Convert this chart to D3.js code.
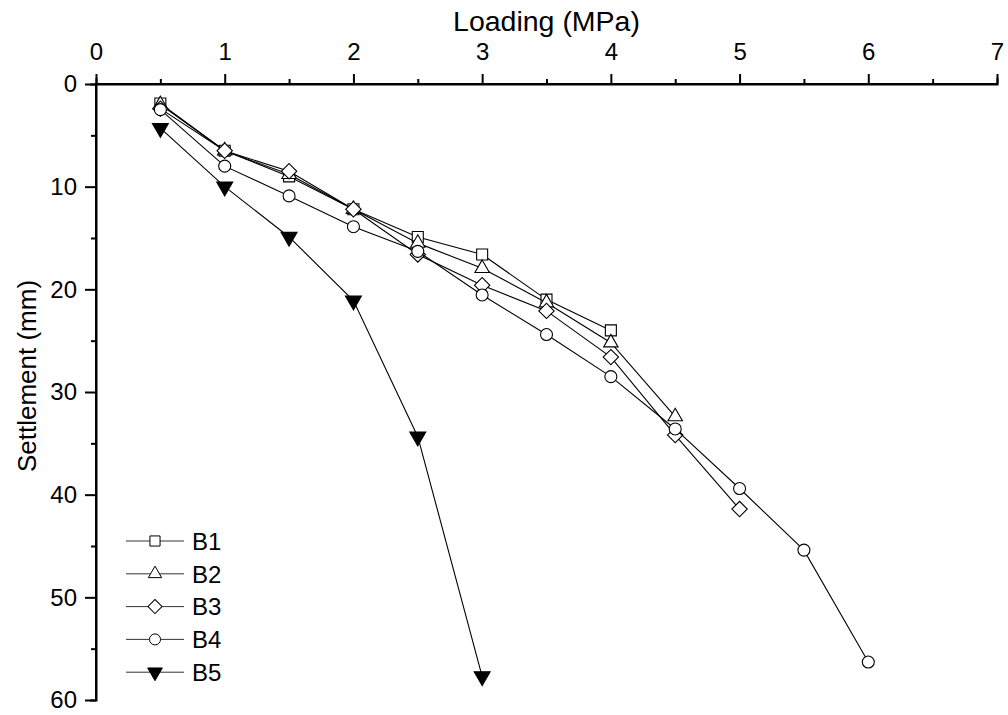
<!DOCTYPE html>
<html>
<head>
<meta charset="utf-8">
<script src="https://cdn.jsdelivr.net/npm/d3@7"></script>
<style>
  html, body { margin: 0; padding: 0; background: #fff; }
  svg { display: block; font-family: "Liberation Sans", Arial, sans-serif; }
</style>
</head>
<body>
<svg id="chart" width="1008" height="715"></svg>
<script>
// Load–settlement curves for the five test beds
const loadB1 = [0.5, 1, 1.5, 2, 2.5, 3, 3.5, 4];
const settB1 = [1.9, 6.5, 9.0, 12.2, 14.9, 16.6, 21.0, 24.0];

const loadB2 = [0.5, 1, 1.5, 2, 2.5, 3, 3.5, 4, 4.5];
const settB2 = [2.0, 6.5, 8.8, 12.2, 15.5, 17.95, 21.3, 25.2, 32.4];

const loadB3 = [0.5, 1, 1.5, 2, 2.5, 3, 3.5, 4, 4.5, 5];
const settB3 = [2.4, 6.5, 8.5, 12.2, 16.6, 19.6, 22.1, 26.6, 34.2, 41.4];

const loadB4 = [0.5, 1, 1.5, 2, 2.5, 3, 3.5, 4, 4.5, 5, 5.5, 6];
const settB4 = [2.5, 8.0, 10.9, 13.9, 16.3, 20.55, 24.4, 28.5, 33.6, 39.4, 45.4, 56.3];

const loadB5 = [0.5, 1, 1.5, 2, 2.5, 3];
const settB5 = [4.3, 10.0, 14.9, 21.1, 34.35, 57.7];

const seriesNames = ["B1", "B2", "B3", "B4", "B5"];
const xTickValues = [0, 1, 2, 3, 4, 5, 6, 7];
const yTickValues = [0, 10, 20, 30, 40, 50, 60];

const series = [
  { name: "B1", load: loadB1, sett: settB1, marker: "square" },
  { name: "B2", load: loadB2, sett: settB2, marker: "triangle" },
  { name: "B3", load: loadB3, sett: settB3, marker: "diamond" },
  { name: "B4", load: loadB4, sett: settB4, marker: "circle" },
  { name: "B5", load: loadB5, sett: settB5, marker: "down" }
];

const svg = d3.select("#chart");
const plotLeft = 96, plotRight = 997, plotTop = 84, plotBottom = 700;

const x = d3.scaleLinear().domain([0, 7]).range([plotLeft, plotRight]);
const y = d3.scaleLinear().domain([0, 60]).range([plotTop, plotBottom]);

function markerPath(kind, scale) {
  const k = scale || 1;
  switch (kind) {
    case "square":   return d3.symbol(d3.symbolSquare, 121 * k * k)();
    case "triangle": return d3.symbol(d3.symbolTriangle, 90 * k * k)();
    case "diamond":  return d3.symbol(d3.symbolSquare, 118 * k * k)();
    case "circle":   return d3.symbol(d3.symbolCircle, 113 * k * k)();
    case "down":     return d3.symbol(d3.symbolTriangle, 110 * k * k)();
  }
}
function markerRotate(kind) {
  if (kind === "diamond") return 45;
  if (kind === "down") return 180;
  return 0;
}

// Axes: loading on top, settlement increasing downward
const xAxis = d3.axisTop(x).tickValues(xTickValues).tickSize(10).tickPadding(14).tickFormat(d3.format("d"));
const xMinor = d3.axisTop(x).tickValues(d3.range(0.5, 7, 1)).tickSize(5).tickFormat("");
const yAxis = d3.axisLeft(y).tickValues(yTickValues).tickSize(11).tickPadding(8).tickFormat(d3.format("d"));
const yMinor = d3.axisLeft(y).tickValues(d3.range(5, 60, 10)).tickSize(5).tickFormat("");

function styleAxis(g) {
  g.select(".domain").attr("stroke", "#000").attr("stroke-width", 2);
  g.selectAll(".tick line").attr("stroke", "#000").attr("stroke-width", 2);
  g.selectAll(".tick text").attr("fill", "#000").style("font-size", "24px");
}

const gx = svg.append("g").attr("transform", `translate(0,${plotTop})`).call(xAxis).call(styleAxis);
svg.append("g").attr("transform", `translate(0,${plotTop})`).call(xMinor).call(styleAxis);
gx.select(".domain").attr("d", `M${plotLeft},0H${plotRight}`);

const gy = svg.append("g").attr("transform", `translate(${plotLeft},0)`).call(yAxis).call(styleAxis);
svg.append("g").attr("transform", `translate(${plotLeft},0)`).call(yMinor).call(styleAxis);
gy.select(".domain").attr("d", `M0,${plotTop}V${plotBottom}`);
svg.selectAll(".domain").attr("stroke-linecap", "square");

svg.append("text")
  .attr("x", (plotLeft + plotRight) / 2).attr("y", 31)
  .attr("text-anchor", "middle")
  .style("font-size", "28.5px")
  .text("Loading (MPa)");

svg.append("text")
  .attr("transform", `translate(36,${(plotTop + plotBottom) / 2 - 16}) rotate(-90)`)
  .attr("text-anchor", "middle")
  .style("font-size", "26px")
  .text("Settlement (mm)");

// Curves and markers
const line = d3.line().x(d => x(d[0])).y(d => y(d[1]));

series.forEach(s => {
  const pts = s.load.map((v, i) => [v, s.sett[i]]);
  const g = svg.append("g");
  g.append("path")
    .attr("d", line(pts))
    .attr("fill", "none")
    .attr("stroke", "#000")
    .attr("stroke-width", 1.1);
  g.selectAll("path.mk")
    .data(pts)
    .join("path")
    .attr("class", "mk")
    .attr("d", markerPath(s.marker))
    .attr("transform", d => `translate(${x(d[0])},${y(d[1])}) rotate(${markerRotate(s.marker)})`)
    .attr("fill", s.marker === "down" ? "#000" : "#fff")
    .attr("stroke", "#000")
    .attr("stroke-width", 1.1);
});

// Legend
const legendTop = 541, legendStep = 32.8;
const legend = svg.append("g");
series.forEach((s, i) => {
  const cy = legendTop + i * legendStep;
  legend.append("line")
    .attr("x1", 126).attr("x2", 184).attr("y1", cy).attr("y2", cy)
    .attr("stroke", "#333").attr("stroke-width", 1);
  legend.append("path")
    .attr("d", markerPath(s.marker, 0.92))
    .attr("transform", `translate(155,${cy}) rotate(${markerRotate(s.marker)})`)
    .attr("fill", s.marker === "down" ? "#000" : "#fff")
    .attr("stroke", "#000")
    .attr("stroke-width", 1);
  legend.append("text")
    .attr("x", 192).attr("y", cy + 8.7)
    .style("font-size", "24px")
    .text(seriesNames[i]);
});
</script>
</body>
</html>
